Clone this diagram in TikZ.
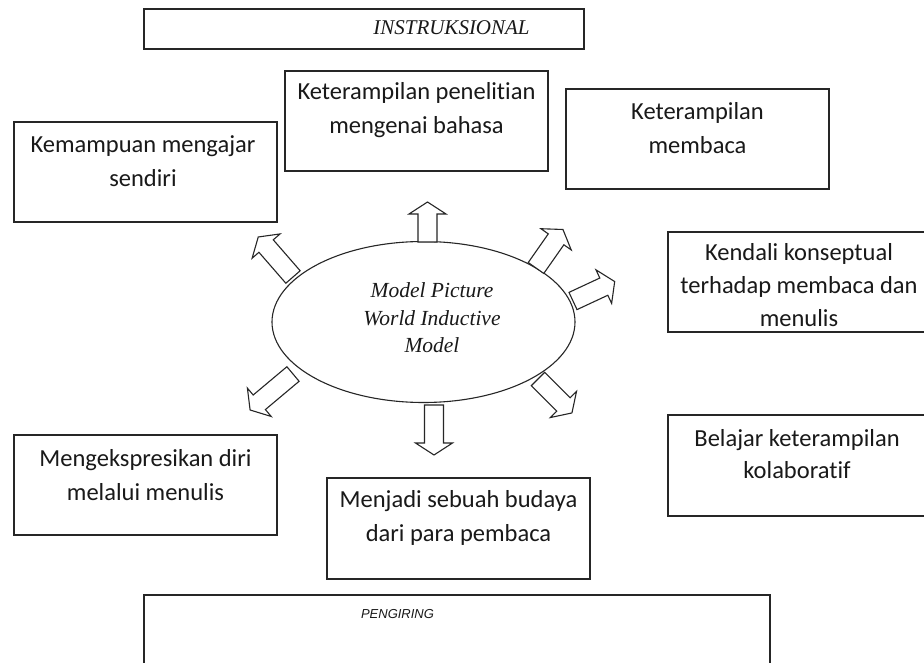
\documentclass[tikz,border=0pt]{standalone}
\usepackage{fontspec}
\setmainfont{Liberation Serif}
\newfontfamily\calibrif[Ligatures={NoCommon,NoRequired,NoContextual}]{Carlito}
\newfontfamily\arialf{Liberation Sans}
\usetikzlibrary{shapes.geometric}
\tikzset{
  frame/.style={draw=black!85, line width=1.2pt, fill=white, inner sep=0pt},
  boxtext/.style={font=\calibrif\fontsize{24.5pt}{34pt}\selectfont, align=center, inner sep=0pt, text=black!90},
  blockarrow/.style={draw=black!85, line width=1.1pt, fill=white, line join=miter},
  serifit/.style={font=\itshape\fontsize{21.5pt}{27.5pt}\selectfont, align=center, inner sep=0pt, text=black!90},
}
\newcommand\barrow[4]{\draw[blockarrow, shift={(#1,#2)}, rotate=#3] (0,-9.5) -- ({#4-12},-9.5) -- ({#4-12},-18.5) -- (#4,0) -- ({#4-12},18.5) -- ({#4-12},9.5) -- (0,9.5) -- cycle;}
\begin{document}
\begin{tikzpicture}[x=1pt,y=-1pt]
\useasboundingbox (0,0) rectangle (924,663);
\clip (0,0) rectangle (924,663);
\fill[white] (0,0) rectangle (924,663);

% top and bottom bands
\node[frame, minimum width=440pt, minimum height=40pt] (instr) at (364,29) {};
\node[font=\itshape\fontsize{21pt}{24pt}\selectfont, inner sep=0pt, text=black!90] (instrt) at (451.5,28) {INSTRUKSIONAL};
\node[frame, minimum width=626pt, minimum height=105pt] (peng) at (457,647.5) {};
\node[font=\arialf\itshape\fontsize{13pt}{16pt}\selectfont, inner sep=0pt, text=black!90] (pengt) at (397.5,614) {PENGIRING};

% boxes
\node[frame, minimum width=263pt, minimum height=100pt] (kem) at (145.5,172) {};
\node[boxtext] (kemt) at (143,161) {Kemampuan mengajar\\sendiri};

\node[frame, minimum width=263pt, minimum height=100pt] (pen) at (416.5,121) {};
\node[boxtext] (pent) at (416.5,110) {Keterampilan penelit\kern0pt ian\\mengenai bahasa};

\node[frame, minimum width=263pt, minimum height=100pt] (mem) at (697.5,139) {};
\node[boxtext] (memt) at (697.5,128.5) {Keterampilan\\membaca};

\node[frame, minimum width=262pt, minimum height=100pt] (ken) at (799,282) {};
\node[boxtext, font=\calibrif\fontsize{24.5pt}{33pt}\selectfont] (kent) at (799,285) {Kendali konseptual\\terhadap membaca dan\\menulis};

\node[frame, minimum width=262pt, minimum height=101pt] (bel) at (799,465.5) {};
\node[boxtext, font=\calibrif\fontsize{24.5pt}{32pt}\selectfont] (belt) at (797,454) {Belajar keterampilan\\kolaborat\kern0pt if};

\node[frame, minimum width=263pt, minimum height=100pt] (eks) at (145.5,485) {};
\node[boxtext] (ekst) at (145.5,475) {Mengekspresikan diri\\melalui menulis};

\node[frame, minimum width=263pt, minimum height=101pt] (bud) at (458.5,528.5) {};
\node[boxtext] (budt) at (458.5,517.5) {Menjadi sebuah budaya\\dari para pembaca};

% central ellipse
\node[draw=black!85, line width=1.1pt, fill=white, ellipse, minimum width=303pt, minimum height=161pt, inner sep=0pt] (ell) at (423.5,322) {};
\node[serifit] (ellt) at (432,318) {Model Picture\\World Inductive\\Model};

% block arrows
\barrow{293}{277}{131}{53}
\barrow{427.5}{242}{90}{40}
\barrow{536}{268}{55}{47}
\barrow{573}{301}{25}{46}
\barrow{293}{374}{220}{56}
\barrow{434}{405}{-90}{50}
\barrow{538}{379}{-45}{48}
\end{tikzpicture}
\end{document}
